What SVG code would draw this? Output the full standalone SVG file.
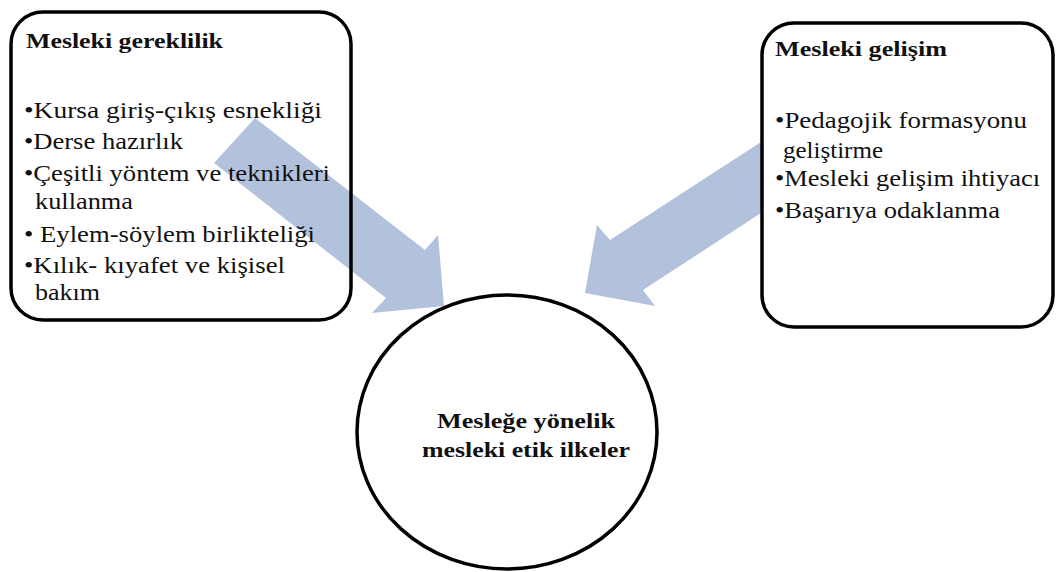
<svg xmlns="http://www.w3.org/2000/svg" width="1056" height="572" viewBox="0 0 1056 572">
  <style>
    .box { fill: none; stroke: #000; stroke-width: 3.5; }
    .arrow { fill: #b3c2dc; stroke: none; }
    .hd { font-size: 21px; font-weight: bold; fill: #111; }
    .li { font-size: 24px; fill: #111; }
    .mid { font-size: 22px; font-weight: bold; fill: #111; }
  </style>

  <!-- block arrows pointing into the central ellipse -->
  <g id="connectors">
    <polygon class="arrow" points="255,118 425,250 438,235 444,306 372,313 386,298 214,163"/>
    <polygon class="arrow" points="761,142 610,240 597,225 585,293 655,306 643,290 761,213"/>
  </g>

  <g id="node-gereklilik">
    <rect class="box" x="11" y="12" width="340" height="308" rx="32" ry="32"/>
    <text class="hd" font-family="Liberation Serif" x="26" y="48" textLength="197" lengthAdjust="spacingAndGlyphs">Mesleki gereklilik</text>
    <text class="li" font-family="Liberation Serif" x="24" y="118" textLength="298" lengthAdjust="spacingAndGlyphs">•Kursa  giriş-çıkış esnekliği</text>
    <text class="li" font-family="Liberation Serif" x="24" y="149" textLength="159" lengthAdjust="spacingAndGlyphs">•Derse hazırlık</text>
    <text class="li" font-family="Liberation Serif" x="24" y="181" textLength="306" lengthAdjust="spacingAndGlyphs">•Çeşitli yöntem ve teknikleri</text>
    <text class="li" font-family="Liberation Serif" x="35" y="209" textLength="98" lengthAdjust="spacingAndGlyphs">kullanma</text>
    <text class="li" font-family="Liberation Serif" x="24" y="242" textLength="291" lengthAdjust="spacingAndGlyphs">• Eylem-söylem birlikteliği</text>
    <text class="li" font-family="Liberation Serif" x="24" y="273" textLength="261" lengthAdjust="spacingAndGlyphs">•Kılık- kıyafet ve kişisel</text>
    <text class="li" font-family="Liberation Serif" x="35" y="300" textLength="65" lengthAdjust="spacingAndGlyphs">bakım</text>
  </g>

  <g id="node-gelisim">
    <rect class="box" x="762" y="23" width="291" height="304" rx="32" ry="32"/>
    <text class="hd" font-family="Liberation Serif" x="775" y="56" textLength="172" lengthAdjust="spacingAndGlyphs">Mesleki gelişim</text>
    <text class="li" font-family="Liberation Serif" x="775" y="128" textLength="252" lengthAdjust="spacingAndGlyphs">•Pedagojik formasyonu</text>
    <text class="li" font-family="Liberation Serif" x="783" y="158" textLength="100" lengthAdjust="spacingAndGlyphs">geliştirme</text>
    <text class="li" font-family="Liberation Serif" x="775" y="186" textLength="265" lengthAdjust="spacingAndGlyphs">•Mesleki gelişim ihtiyacı</text>
    <text class="li" font-family="Liberation Serif" x="775" y="218" textLength="225" lengthAdjust="spacingAndGlyphs">•Başarıya odaklanma</text>
  </g>

  <g id="node-ilkeler">
    <ellipse class="box" cx="507" cy="432" rx="150" ry="137"/>
    <text class="mid" font-family="Liberation Serif" x="437" y="428" textLength="178" lengthAdjust="spacingAndGlyphs">Mesleğe yönelik</text>
    <text class="mid" font-family="Liberation Serif" x="422" y="457" textLength="208" lengthAdjust="spacingAndGlyphs">mesleki etik ilkeler</text>
  </g>
</svg>
